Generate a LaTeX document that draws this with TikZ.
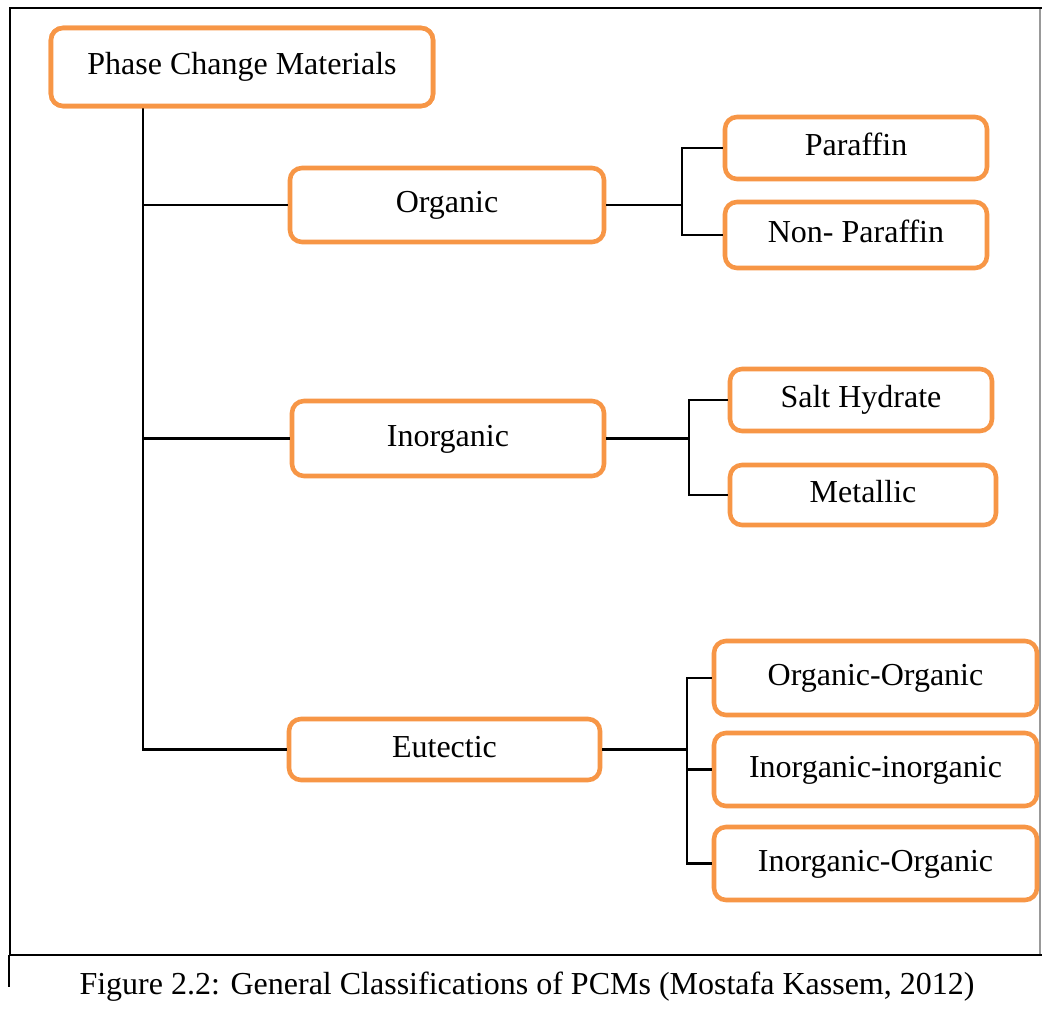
\documentclass[tikz,border=0pt]{standalone}
\usepackage{fontspec}
\setmainfont{Liberation Serif}
\definecolor{pcmorange}{HTML}{F79646}
\begin{document}
\begin{tikzpicture}[x=0.75pt,y=-0.75pt,
  box/.style={draw=pcmorange, line width=3.4pt, rounded corners=9pt, fill=white,
    inner sep=0pt, text=black, font=\fontsize{24}{28}\selectfont,
    text height=16.3pt, text depth=5pt, align=center},
  link/.style={draw=black, line width=1.6pt},
  frameline/.style={draw=black, line width=2.2pt}]
\useasboundingbox (0,0) rectangle (1042,1012);
\fill[white] (0,0) rectangle (1042,1012);
% frame
\draw[gray!80, line width=1.2pt] (1040,8) -- (1040,955);
\draw[frameline] (9,8) -- (1042,8);
\draw[black, line width=1.8pt] (10,8) -- (10,955);
\draw[black, line width=1.5pt] (9,955) -- (9,987);
\draw[frameline] (9,955) -- (1042,955);
% boxes
\node[box, minimum width=286.5pt, minimum height=58.5pt] (pcm) at (242,67) {Phase Change Materials};
\node[box, minimum width=235.5pt, minimum height=55.5pt] (org) at (447,205) {Organic};
\node[box, minimum width=234pt, minimum height=56.25pt] (inorg) at (448,438.5) {Inorganic};
\node[box, minimum width=233.25pt, minimum height=45.75pt] (eut) at (444.5,749.5) {Eutectic};
\node[box, minimum width=196.5pt, minimum height=46.5pt] (par) at (856,148) {Paraffin};
\node[box, minimum width=196.5pt, minimum height=49.5pt] (npar) at (856,235) {Non- Paraffin};
\node[box, minimum width=196.5pt, minimum height=46.5pt] (salt) at (861,400) {Salt Hydrate};
\node[box, minimum width=199.5pt, minimum height=45pt] (met) at (863,495) {Metallic};
\node[box, minimum width=242.25pt, minimum height=55.5pt] (oo) at (875.5,678) {Organic-Organic};
\node[box, minimum width=242.25pt, minimum height=54.75pt] (ii) at (875.5,769.5) {Inorganic-inorganic};
\node[box, minimum width=242.25pt, minimum height=54.75pt] (io) at (875.5,863.5) {Inorganic-Organic};
% trunk
\coordinate (tr) at (143,99);
\draw[link] (tr) |- (eut.west);
\draw[link] (tr |- org.west) -- (org.west);
\draw[link] (tr |- inorg.west) -- (inorg.west);
% organic branch
\coordinate (oj) at (682,0);
\draw[link] (org.east) -- (oj |- org.east);
\draw[link] (par.west) -| (oj |- npar.west) -- (npar.west);
% inorganic branch
\coordinate (ij) at (689,0);
\draw[link] (inorg.east) -- (ij |- inorg.east);
\draw[link] (salt.west) -| (ij |- met.west) -- (met.west);
% eutectic branch
\coordinate (ej) at (687,0);
\draw[link] (eut.east) -- (ej |- eut.east);
\draw[link] (oo.west) -| (ej |- io.west) -- (io.west);
\draw[link] (ej |- ii.west) -- (ii.west);
% redraw top box over trunk start
\node[box, minimum width=286.5pt, minimum height=58.5pt] at (242,67) {Phase Change Materials};
% caption
\node[font=\fontsize{24}{28}\selectfont, inner sep=0pt] (cap) at (527,987) {Figure 2.2: General Classifications of PCMs (Mostafa Kassem, 2012)};
\end{tikzpicture}
\end{document}
